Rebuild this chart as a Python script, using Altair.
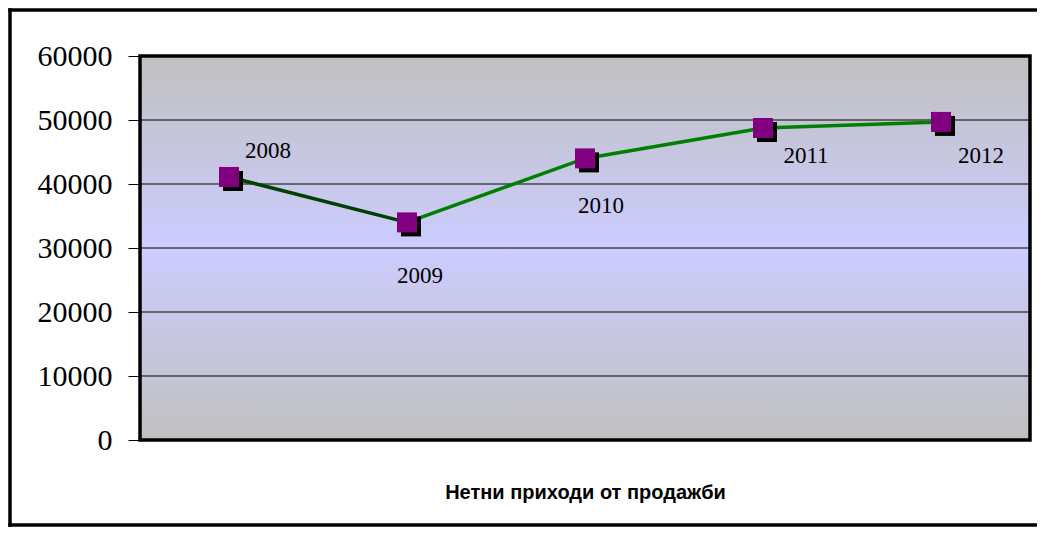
import altair as alt
import pandas as pd

# ---- data ----
years = ["2008", "2009", "2010", "2011", "2012"]
values = [41100, 34000, 44000, 48750, 49700]
y_ticks = [0, 10000, 20000, 30000, 40000, 50000, 60000]
x_title = "Нетни приходи от продажби"

W, H = 890, 384

pts = pd.DataFrame({"year": years, "value": values})
# line pieces: first segment dark green, rest bright green
seg_rows = []
for i, (yr, v) in enumerate(zip(years, values)):
    if i <= 1:
        seg_rows.append({"year": yr, "value": v, "seg": "a"})
    if i >= 1:
        seg_rows.append({"year": yr, "value": v, "seg": "b"})
segs = pd.DataFrame(seg_rows)
ticks = pd.DataFrame({"t": y_ticks})
one = pd.DataFrame({"k": [0]})

xs = alt.X("year:N", scale=alt.Scale(type="point", padding=0.5, domain=years),
           axis=alt.Axis(labels=False, ticks=False, domain=False, grid=False,
                         title=x_title, titleFont="Liberation Sans",
                         titleFontWeight="bold", titleFontSize=20,
                         titleColor="black", titlePadding=42))
ys = alt.Y("value:Q", scale=alt.Scale(domain=[0, 60000], nice=False, zero=True),
           axis=alt.Axis(values=y_ticks, format="d", grid=False, domain=False,
                         tickColor="black", tickSize=12, tickWidth=1, labelPadding=16,
                         labelFont="Liberation Serif", labelFontSize=30,
                         labelColor="black", title=None))

grad = alt.Gradient(gradient="linear", x1=0, x2=0, y1=0, y2=1,
                    stops=[alt.GradientStop(color="#c0c0c0", offset=0),
                           alt.GradientStop(color="#ccccff", offset=0.5),
                           alt.GradientStop(color="#c0c0c0", offset=1)])

bg = alt.Chart(one).mark_rect(color=grad).encode(
    x=alt.value(0), x2=alt.value(W), y=alt.value(0), y2=alt.value(H))

grid = alt.Chart(ticks).mark_rule(color="black", strokeWidth=1.2).encode(
    y=alt.Y("t:Q", scale=alt.Scale(domain=[0, 60000], nice=False)),
    x=alt.value(0), x2=alt.value(W))

lines = alt.Chart(segs).mark_line(strokeWidth=3.5).encode(
    x=xs, y=ys, detail="seg:N",
    color=alt.Color("seg:N", scale=alt.Scale(domain=["a", "b"], range=["#004000", "#008000"]),
                    legend=None))

shadow = alt.Chart(pts).mark_square(size=400, color="black", opacity=1, filled=True,
                                    xOffset=4, yOffset=4).encode(x=xs, y=ys)
marker = alt.Chart(pts).mark_square(size=400, color="#800080", opacity=1,
                                    filled=True).encode(x=xs, y=ys)

label_off = {"2008": (39, -26), "2009": (13, 54), "2010": (16, 48),
             "2011": (43, 28), "2012": (40, 34)}
labels = []
for yr in years:
    dx, dy = label_off[yr]
    labels.append(
        alt.Chart(pts).transform_filter(alt.datum.year == yr).mark_text(
            font="Liberation Serif", fontSize=23, color="black",
            align="center", baseline="middle", dx=dx, dy=dy
        ).encode(x=xs, y=ys, text="year:N"))

frame = alt.Chart(one).mark_rect(fill=None, filled=False, stroke="black", strokeWidth=3.5).encode(
    x=alt.value(0), x2=alt.value(W), y=alt.value(0), y2=alt.value(H))

# outer chart border: top, left and bottom edges only (right edge is off-page)
border_kw = dict(color="black", strokeWidth=3.5, clip=False)
b_top = alt.Chart(one).mark_rule(**border_kw).encode(
    x=alt.value(-131.75), x2=alt.value(W + 7), y=alt.value(-46))
b_bot = alt.Chart(one).mark_rule(**border_kw).encode(
    x=alt.value(-131.75), x2=alt.value(W + 7), y=alt.value(H + 85))
b_left = alt.Chart(one).mark_rule(**border_kw).encode(
    x=alt.value(-130), y=alt.value(-47.75), y2=alt.value(H + 86.75))

chart = alt.layer(bg, grid, lines, shadow, marker, *labels, frame,
                  b_top, b_bot, b_left).properties(
    width=W, height=H,
    autosize=alt.AutoSizeParams(type="none"),
    padding={"left": 132, "top": 48, "right": 7, "bottom": 87},
    background="white",
).configure_view(stroke=None)

chart.save("out.html", embed_options={"renderer": "svg", "actions": False})
